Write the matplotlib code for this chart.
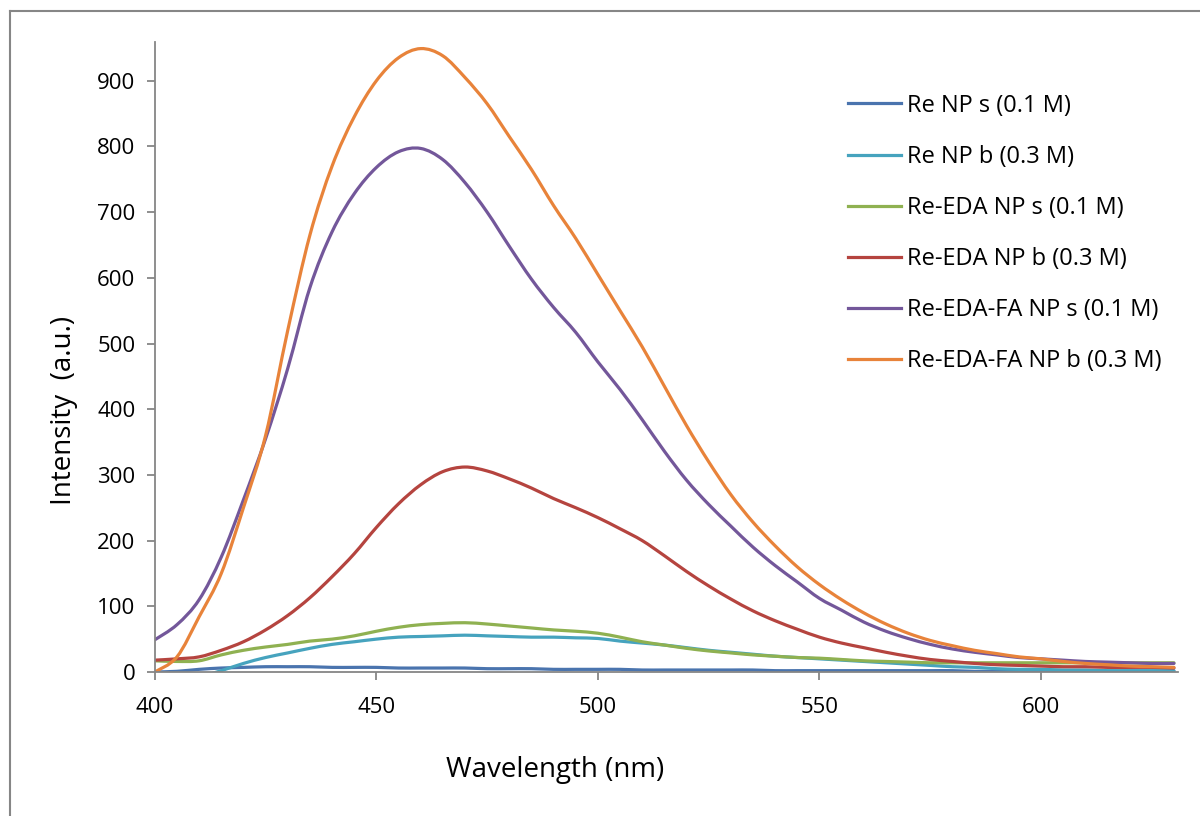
import numpy as np
import matplotlib.pyplot as plt
from matplotlib.lines import Line2D
from matplotlib.path import Path
from matplotlib.patches import PathPatch

plt.rcParams['font.family'] = ['Open Sans', 'DejaVu Sans']

wavelength = np.arange(400, 631, 5)

re_np_s = [0, 1, 4, 6, 7, 8, 8, 8, 7, 7, 7, 6, 6, 6, 6, 5, 5, 5, 4, 4, 4, 4,
           3, 3, 3, 3, 3, 3, 2, 2, 2, 2, 2, 2, 2, 2, 2, 1, 1, 1, 1, 1, 1, 1, 1, 1, 1]
re_np_b = [-28, -18, -8, 2, 13, 22, 29, 36, 42, 46, 50, 53, 54, 55, 56, 55, 54, 53,
           53, 52, 51, 47, 44, 41, 37, 33, 30, 27, 24, 22, 20, 18, 16, 14, 12, 10,
           8, 7, 5, 4, 4, 3, 3, 2, 2, 2, 2]
re_eda_s = [17, 16, 17, 26, 33, 38, 42, 47, 50, 55, 62, 68, 72, 74, 75, 73, 70, 67,
            64, 62, 59, 53, 46, 41, 36, 32, 29, 26, 24, 22, 21, 19, 17, 16, 15, 14,
            14, 14, 14, 14, 14, 14, 14, 14, 14, 14, 14]
re_eda_b = [18, 20, 23, 33, 46, 64, 86, 113, 145, 180, 220, 256, 285, 305, 312, 306,
            294, 280, 264, 250, 235, 218, 200, 177, 153, 131, 111, 93, 78, 65, 53,
            44, 37, 30, 24, 19, 16, 13, 11, 10, 9, 8, 8, 7, 7, 7, 6]
re_eda_fa_s = [49, 72, 110, 175, 262, 355, 462, 585, 670, 728, 768, 792, 797, 780,
               745, 700, 648, 598, 555, 517, 472, 430, 384, 336, 292, 255, 222, 190,
               162, 137, 112, 94, 76, 62, 51, 42, 35, 30, 26, 22, 20, 18, 16, 15, 14,
               13, 13]
re_eda_fa_b = [0, 23, 84, 150, 250, 360, 520, 665, 770, 845, 900, 935, 949, 938, 905,
               865, 815, 765, 710, 660, 605, 550, 495, 435, 375, 320, 270, 228, 192,
               160, 133, 110, 90, 73, 59, 48, 40, 33, 28, 23, 20, 16, 13, 11, 9, 8, 7]

labels = ["Re NP s (0.1 M)", "Re NP b (0.3 M)", "Re-EDA NP s (0.1 M)",
          "Re-EDA NP b (0.3 M)", "Re-EDA-FA NP s (0.1 M)", "Re-EDA-FA NP b (0.3 M)"]
colors = ["#4A74AE", "#46A3BE", "#8FB151", "#B5443F", "#73579A", "#E8833A"]
series = [re_np_s, re_np_b, re_eda_s, re_eda_b, re_eda_fa_s, re_eda_fa_b]


def smoothed_path(x, y):
    # Excel-style "smoothed line": Bezier segments through the data points
    pts = np.column_stack([x, y]).astype(float)
    n = len(pts)
    verts = [pts[0]]
    codes = [Path.MOVETO]
    for i in range(n - 1):
        p0 = pts[max(i - 1, 0)]
        p1 = pts[i]
        p2 = pts[i + 1]
        p3 = pts[min(i + 2, n - 1)]
        verts += [p1 + (p2 - p0) / 6, p2 - (p3 - p1) / 6, p2]
        codes += [Path.CURVE4] * 3
    return Path(verts, codes)


fig = plt.figure(figsize=(12, 8.16), dpi=100)
ax = fig.add_axes([0.129, 0.1765, 0.853, 0.772])

handles = []
for y, c, lab in zip(series, colors, labels):
    ax.add_patch(PathPatch(smoothed_path(wavelength, y), fill=False, edgecolor=c,
                           lw=2.3, capstyle='round', joinstyle='round'))
    handles.append(Line2D([], [], color=c, lw=2.3, label=lab))

ax.set_xlim(400, 631)
ax.set_ylim(0, 959)
ax.set_xticks([400, 450, 500, 550, 600])
ax.set_yticks(range(0, 901, 100))

grey = "#868686"
for s in ["top", "right"]:
    ax.spines[s].set_visible(False)
for s in ["left", "bottom"]:
    ax.spines[s].set_color(grey)
    ax.spines[s].set_linewidth(1.3)
ax.tick_params(axis="both", colors=grey, labelcolor="black", labelsize=16,
               length=6, width=1.3, direction="out")
ax.tick_params(axis="x", pad=12)
ax.tick_params(axis="y", pad=8)

fig.text(64 / 1200, 1 - 410 / 816, "Intensity  (a.u.)", fontsize=20,
         rotation=90, ha="center", va="center")
fig.text(555 / 1200, 1 - 770 / 816, "Wavelength (nm)", fontsize=20,
         ha="center", va="center")

ax.legend(handles=handles, loc="upper left", bbox_to_anchor=(0.677, 0.918),
          frameon=False, fontsize=17, handlelength=2.25, labelspacing=1.15,
          handletextpad=0.25, borderpad=0, borderaxespad=0)

# outer chart frame (top and left edges visible in the crop)
fig.add_artist(Line2D([0.0085, 0.0085], [0, 0.9865], transform=fig.transFigure,
                      color=grey, lw=1.5))
fig.add_artist(Line2D([0.0085, 1.0], [0.9865, 0.9865], transform=fig.transFigure,
                      color=grey, lw=1.5))

fig.savefig("out.png", dpi=100)
